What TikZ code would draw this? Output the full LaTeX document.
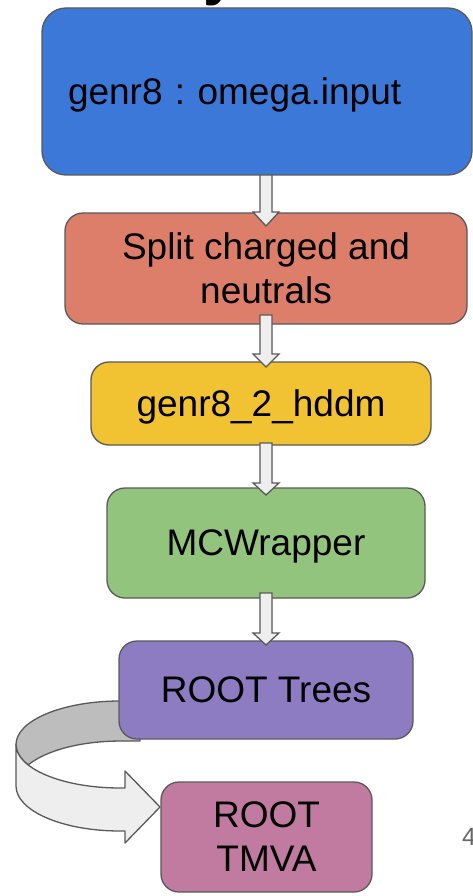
\documentclass[tikz,border=0pt]{standalone}
\usepackage{fontspec}
\setmainfont{Liberation Sans}
\usetikzlibrary{calc,backgrounds}
\definecolor{cblue}{HTML}{3C78D8}
\definecolor{cred}{HTML}{DD7E6B}
\definecolor{cyel}{HTML}{F1C232}
\definecolor{cgreen}{HTML}{93C47D}
\definecolor{cpurp}{HTML}{8E7CC3}
\definecolor{cpink}{HTML}{C27BA0}
\definecolor{edgegray}{HTML}{595959}
\definecolor{arrfill}{HTML}{EEEEEE}
\definecolor{darkband}{HTML}{BDBDBD}
\definecolor{pagenum}{HTML}{666666}
\frenchspacing
\tikzset{
  box/.style={draw=edgegray, line width=1.3pt, rounded corners=18pt, inner sep=0pt, outer sep=0pt,
    font=\fontsize{37}{44}\selectfont, align=center},
  oneline/.style={text depth=0pt},
  barrow/.style={draw=edgegray, fill=arrfill, line width=1.3pt, line join=miter},
  ribbon/.style={draw=edgegray, line width=1.3pt, line join=round},
}
% #1 from node, #2 to node, #3 shaft top above from.south, #4 head base above to.north, #5 tip below to.north
\newcommand\blockarr[5]{%
  \draw[barrow] ($(#1.south -| axis)+(-6,#3)$) -- ($(#2.north -| axis)+(-6,#4)$)
    -- ($(#2.north -| axis)+(-13,#4)$) -- ($(#2.north -| axis)+(0,-#5)$)
    -- ($(#2.north -| axis)+(13,#4)$) -- ($(#2.north -| axis)+(6,#4)$)
    -- ($(#1.south -| axis)+(6,#3)$) -- cycle;}
\begin{document}
\begin{tikzpicture}[x=1pt,y=1pt]
\useasboundingbox (0,0) rectangle (473,-896);
\coordinate (axis) at (266,0);

% partial title letter and page number, cut by the page edge
\node[font=\fontsize{60}{60}\selectfont\bfseries, anchor=base west, inner sep=0pt] (title) at (203,6) {y};
\node[font=\fontsize{25}{25}\selectfont, text=pagenum, anchor=base west, inner sep=0pt] (pnum) at (462,-845) {4};

\node[box, oneline, fill=cblue, rounded corners=24pt, minimum width=430pt, minimum height=167pt,
  text width=378pt, align=left] (gen) at (257,-91.5) {genr8 : omega.input};
\node[box, fill=cred, minimum width=402pt, minimum height=111pt] (split) at (266,-268.5) {Split charged and\\neutrals};
\node[box, oneline, fill=cyel, minimum width=340pt, minimum height=83pt] (hddm) at (261,-403.5) {genr8\_2\_hddm};
\node[box, oneline, fill=cgreen, minimum width=318pt, minimum height=110pt] (mcw) at (266,-543) {MCWrapper};
\node[box, oneline, fill=cpurp, minimum width=294pt, minimum height=98pt] (trees) at (266,-690) {ROOT Trees};
\node[box, fill=cpink, minimum width=211pt, minimum height=110pt] (tmva) at (266.5,-837) {ROOT\\TMVA};

\blockarr{gen}{split}{0}{1}{13}
\blockarr{split}{hddm}{9}{8}{5}
\blockarr{hddm}{mcw}{2}{5}{7}
\blockarr{mcw}{trees}{5}{8}{4}

\begin{scope}[on background layer]
  \draw[ribbon, fill=darkband] (140,-701) -- (120,-701)
    arc[start angle=90, end angle=208, x radius=104, y radius=43.5]
    arc[start angle=152, end angle=90, x radius=104, y radius=45]
    -- (140,-741) -- cycle;
  \draw[ribbon, fill=arrfill] (16,-744.5)
    arc[start angle=180, end angle=270, x radius=104, y radius=43.5]
    -- (125,-788) -- (125,-771) -- (160,-807) -- (125,-843) -- (125,-831) -- (120,-831)
    arc[start angle=270, end angle=180, x radius=104, y radius=45] -- cycle;
\end{scope}
\end{tikzpicture}
\end{document}
